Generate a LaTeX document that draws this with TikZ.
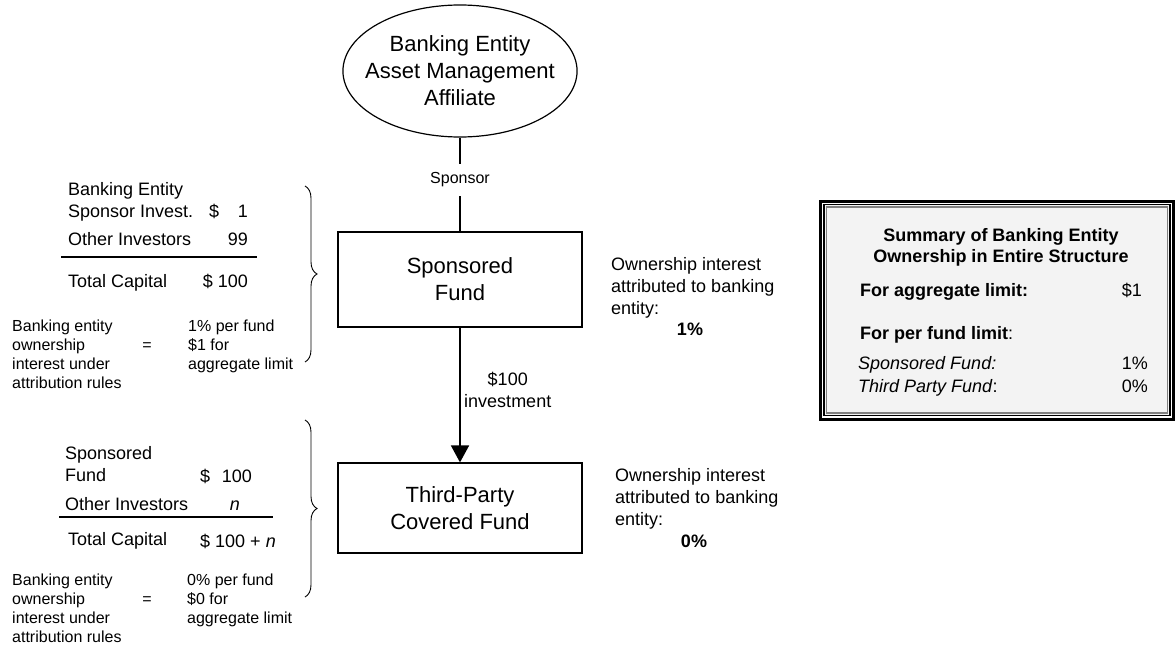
\documentclass[tikz,border=0pt]{standalone}
\usepackage{fontspec}
\setmainfont{Liberation Sans}
\usepackage{tikz}
\usetikzlibrary{shapes, arrows.meta, positioning, decorations.pathreplacing}
\definecolor{panelgray}{RGB}{243,243,243}
\newcommand{\boxsize}{\fontsize{22}{27}\selectfont}
\newcommand{\notesize}{\fontsize{18}{22}\selectfont}
\newcommand{\smallnotesize}{\fontsize{16}{19}\selectfont}
\tikzstyle{block} = [draw, fill=white, rectangle, line width=1.2pt, minimum width=244pt, minimum height=95pt, align=center, font=\boxsize]
\tikzstyle{entity} = [draw, ellipse, line width=1.2pt, minimum width=234pt, minimum height=132pt, inner xsep=-12pt, inner ysep=0pt, align=center, font=\boxsize]
\tikzstyle{note} = [inner sep=0pt, align=left, font=\notesize]
\tikzstyle{smallnote} = [inner sep=0pt, align=left, font=\smallnotesize]
\tikzstyle{sumbox} = [draw, rectangle, line width=3pt, minimum width=353pt, minimum height=218pt]

\begin{document}
\begin{tikzpicture}[x=1pt, y=-1pt, node distance=3cm, >={Triangle[length=17pt,width=18pt]}]
	\useasboundingbox (0,0) rectangle (1176,645);
	\node [entity] (affiliate) at (460,71) {Banking Entity\\Asset Management\\Affiliate};
	\node [block, below of=affiliate, node distance=208.5pt] (sponsored) {Sponsored\\Fund};
	\node [block, below of=sponsored, node distance=228.5pt, minimum height=90pt] (thirdparty) {Third-Party\\Covered Fund};
	
	\draw[line width=1.2pt] (affiliate) -- node[pos=0.45, fill=white, inner xsep=2pt, inner ysep=9pt, font=\smallnotesize]{Sponsor} (sponsored);
	\draw[->, line width=1.8pt] (sponsored) -- node[right, pos=0.46, align=center, font=\notesize]{\$100\\investment} (thirdparty);
	
	\node [note, anchor=north west] (ownsponsored) at (611,257) {Ownership interest\\attributed to banking\\entity:};
	\node [note, anchor=north, font=\notesize\bfseries] (pctsponsored) at (690,323) {1\%};
	\node [note, anchor=north west] (ownthird) at (615,468) {Ownership interest\\attributed to banking\\entity:};
	\node [note, anchor=north, font=\notesize\bfseries] (pctthird) at (694,535) {0\%};
	
	% capital of the sponsored fund
	\node [note, anchor=north west] (bankinv) at (68,182) {Banking Entity\\Sponsor Invest.};
	\node [note, anchor=base west] (bankdollar) at (209,217) {\$};
	\node [note, anchor=base east] (bankval) at (248,217) {1};
	\node [note, anchor=base west] (otherinv) at (68,245) {Other Investors};
	\node [note, anchor=base east] (otherval) at (248,245) {99};
	\draw[line width=1.5pt] (61,257) -- (257,257);
	\node [note, anchor=base west] (totalcap) at (68,287) {Total Capital};
	\node [note, anchor=base east] (totalval) at (248,287) {\$ 100};
	\node [smallnote, anchor=north west] (rulesone) at (12,319.5) {Banking entity\\ownership\\interest under\\attribution rules};
	\node [smallnote, anchor=base] (eqone) at (147,350) {=};
	\node [smallnote, anchor=north west] (resultone) at (188,319.5) {1\% per fund\\\$1 for\\aggregate limit};
	\draw[line width=0.9pt, decorate, decoration={brace, amplitude=12pt}] (305,186) -- (305,362);
	
	% capital of the third-party fund
	\node [note, anchor=north west] (spinv) at (65,446) {Sponsored\\Fund};
	\node [note, anchor=base west] (spdollar) at (200,482) {\$};
	\node [note, anchor=base east] (spval) at (252,482) {100};
	\node [note, anchor=base west] (otherinvb) at (65,510) {Other Investors};
	\node [note, anchor=base] (othervalb) at (235,510) {\textit{n}};
	\draw[line width=1.5pt] (59,517) -- (273,517);
	\node [note, anchor=base west] (totalcapb) at (68,545) {Total Capital};
	\node [note, anchor=base west] (totalvalb) at (200,547) {\$ 100 + \textit{n}};
	\node [smallnote, anchor=north west] (rulestwo) at (12,573.5) {Banking entity\\ownership\\interest under\\attribution rules};
	\node [smallnote, anchor=base] (eqtwo) at (147,604) {=};
	\node [smallnote, anchor=north west] (resulttwo) at (187,573.5) {0\% per fund\\\$0 for\\aggregate limit};
	\draw[line width=0.9pt, decorate, decoration={brace, amplitude=12pt}] (305,420) -- (305,597);
	
	% summary panel
	\node [sumbox] (summary) at (997,310) {};
	\draw[line width=1.5pt, fill=panelgray] ([shift={(5pt,-5pt)}]summary.north west) rectangle ([shift={(-5pt,5pt)}]summary.south east);
	\draw[line width=1.2pt, gray] ([shift={(7.5pt,-7.5pt)}]summary.north west) rectangle ([shift={(-7.5pt,7.5pt)}]summary.south east);
	\node [note, anchor=north, align=center, font=\fontsize{18}{21}\selectfont\bfseries] (sumtitle) at (1001,228.5) {Summary of Banking Entity\\Ownership in Entire Structure};
	\node [note, anchor=base west] (aggregate) at (860,296) {\textbf{For aggregate limit:}};
	\node [note, anchor=base east] (aggregateval) at (1142,296) {\$1};
	\node [note, anchor=base west] (perfund) at (860,339) {\textbf{For per fund limit}:};
	\node [note, anchor=base west] (sumsponsored) at (858,369) {\textit{Sponsored Fund:}};
	\node [note, anchor=base east] (sumsponsoredval) at (1148,369) {1\%};
	\node [note, anchor=base west] (sumthird) at (858,392) {\textit{Third Party Fund}:};
	\node [note, anchor=base east] (sumthirdval) at (1148,392) {0\%};
\end{tikzpicture}
\end{document}
